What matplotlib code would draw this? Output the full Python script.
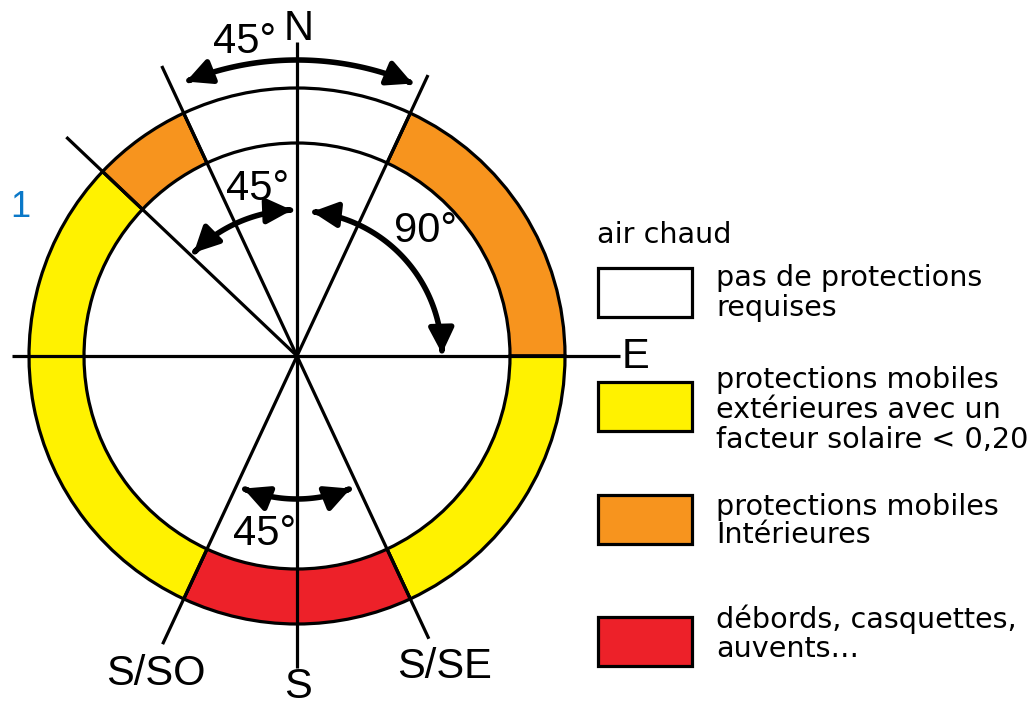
import numpy as np
import matplotlib
matplotlib.use('Agg')
from matplotlib import pyplot as plt
from matplotlib.patches import Wedge, Rectangle, FancyArrowPatch, ArrowStyle
from matplotlib.path import Path

# ring sectors, bearings in degrees clockwise from north
sector_from = [25, 90, 155, 205, 313.5, 335]
sector_to = [90, 155, 205, 313.5, 335, 385]
sector_zone = ['orange', 'yellow', 'red', 'yellow', 'orange', 'white']

zone_colors = {'white': '#ffffff', 'yellow': '#fff200',
               'orange': '#f7941e', 'red': '#ed2129'}

# rays drawn from the centre (bearing, length in px)
ray_bearing = [0, 180, 90, 270, 335, 155, 25, 205, 313.5]
ray_length = [314, 312, 323, 285, 320, 312, 310, 318, 318]

# angle arrows
arrow_from = [-22, -45, 6, 158]
arrow_to = [23, -2, 89, 202]
arrow_radius = [296, 146, 145, 143]

angle_labels = ['45°', '45°', '90°', '45°']
compass_labels = ['N', 'E', 'S', 'S/SO', 'S/SE']

legend_title = 'air chaud'
legend_zone = ['white', 'yellow', 'orange', 'red']
legend_lines = [
    ['pas de protections', 'requises'],
    ['protections mobiles', 'extérieures avec un', 'facteur solaire < 0,20'],
    ['protections mobiles', 'Intérieures'],
    ['débords, casquettes,', 'auvents…'],
]

# geometry (pixels, y down)
cx, cy = 297, 356
R_out, R_in = 268, 213
lw = 2.3


def pt(b, rad):
    b = np.radians(b)
    return cx + rad * np.sin(b), cy - rad * np.cos(b)


fig = plt.figure(figsize=(10.34, 7.05), dpi=100)
ax = fig.add_axes([0, 0, 1, 1])
ax.set_xlim(0, 1034)
ax.set_ylim(705, 0)
ax.axis('off')

# ring
for b1, b2, z in zip(sector_from, sector_to, sector_zone):
    w = Wedge((cx, cy), R_out, b1 - 90, b2 - 90, width=R_out - R_in,
              facecolor=zone_colors[z], edgecolor='k', lw=lw, zorder=2)
    ax.add_patch(w)

# rays
for b, ln in zip(ray_bearing, ray_length):
    x, y = pt(b, ln)
    ax.plot([cx, x], [cy, y], color='k', lw=lw, solid_capstyle='butt', zorder=3)

# arrows
style = ArrowStyle('<|-|>', head_length=1.0, head_width=0.5)
for b1, b2, rad in zip(arrow_from, arrow_to, arrow_radius):
    bb = np.linspace(b1, b2, 80)
    xs, ys = pt(bb, rad)
    p = Path(np.column_stack([xs, ys]))
    a = FancyArrowPatch(path=p, arrowstyle=style, mutation_scale=15,
                        color='k', lw=4, zorder=4)
    ax.add_patch(a)

lab_font = ['Liberation Sans', 'DejaVu Sans']
lab_size = 30

# angle labels (left x, baseline y)
angle_pos = [(213, 53), (226, 200), (394, 242), (233, 545)]
for t, (x, y) in zip(angle_labels, angle_pos):
    ax.text(x, y, t, family=lab_font, fontsize=lab_size, ha='left', va='baseline', zorder=5)

compass_pos = [(284, 40), (622, 368), (284, 698), (106, 685), (397, 678)]
for t, (x, y) in zip(compass_labels, compass_pos):
    ax.text(x, y, t, family=lab_font, fontsize=lab_size, ha='left', va='baseline', zorder=5)

# stray blue mark at left edge
ax.text(10, 217, '1', family=lab_font, fontsize=26, color='#0a78c8', ha='left', va='baseline')

# legend
leg_font = 'DejaVu Sans'
leg_size = 20.6
ax.text(597, 243, legend_title, family=leg_font, fontsize=leg_size, ha='left', va='baseline')
box_top = [268, 382, 495, 617]
first_base = [286, 388, 515, 628]
line_step = [30, 30, 28, 29]
for z, lines, top, base, step in zip(legend_zone, legend_lines, box_top, first_base, line_step):
    ax.add_patch(Rectangle((598, top), 94, 49, facecolor=zone_colors[z], edgecolor='k', lw=lw))
    for i, s in enumerate(lines):
        ax.text(716, base + i * step, s, family=leg_font, fontsize=leg_size,
                ha='left', va='baseline')

fig.savefig('out.png', dpi=100)
